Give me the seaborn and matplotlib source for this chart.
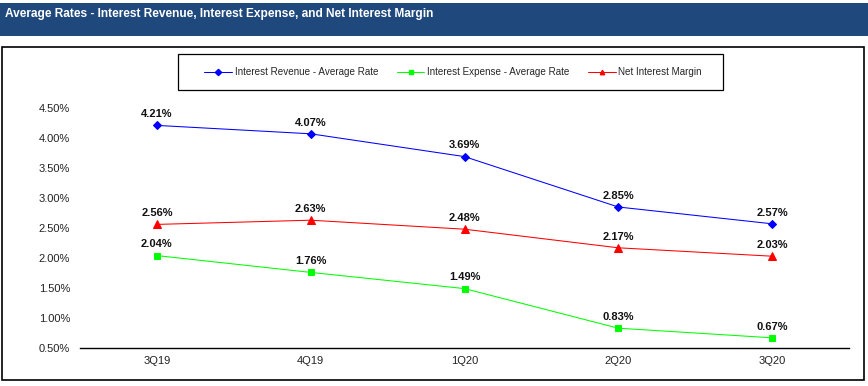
import matplotlib
matplotlib.use("Agg")
import matplotlib.pyplot as plt
import pandas as pd
import seaborn as sns
from matplotlib.lines import Line2D
from matplotlib.patches import Rectangle
from matplotlib.ticker import FuncFormatter

quarters = ["3Q19", "4Q19", "1Q20", "2Q20", "3Q20"]
revenue_rate = [4.21, 4.07, 3.69, 2.85, 2.57]
expense_rate = [2.04, 1.76, 1.49, 0.83, 0.67]
net_margin = [2.56, 2.63, 2.48, 2.17, 2.03]

series = [
    ("Interest Revenue - Average Rate", revenue_rate, "#0000FF", "D", 4),
    ("Interest Expense - Average Rate", expense_rate, "#00FF00", "s", 5),
    ("Net Interest Margin", net_margin, "#FF0000", "^", 5.5),
]

sns.set_theme(style="white")
plt.rcParams["font.family"] = ["Liberation Sans", "DejaVu Sans"]

W, H = 868, 386
fig = plt.figure(figsize=(W / 100, H / 100), dpi=100)

# title banner, outer chart frame and legend box
fig.patches.append(Rectangle((0, 1 - 36 / H), 1, 33 / H, transform=fig.transFigure,
                             facecolor="#1F497D", edgecolor="none", zorder=0))
fig.text(5 / W, 1 - 13.5 / H, "Average Rates - Interest Revenue, Interest Expense, and Net Interest Margin",
         color="white", fontsize=8.6, fontweight="bold", va="center", ha="left")
fig.patches.append(Rectangle((2 / W, 1 - 380 / H), 862 / W, 333 / H, transform=fig.transFigure,
                             facecolor="white", edgecolor="black", linewidth=1.2, zorder=0))
fig.patches.append(Rectangle((178 / W, 1 - 90 / H), 545 / W, 36 / H, transform=fig.transFigure,
                             facecolor="white", edgecolor="black", linewidth=0.9, zorder=0))

ax = fig.add_axes([80 / W, 1 - 348 / H, 769 / W, 240 / H])
ax.set_facecolor("none")
ax.set_zorder(2)

legend_handles = []
for label, values, color, marker, ms in series:
    df = pd.DataFrame({"quarter": quarters, "rate": values})
    sns.lineplot(data=df, x="quarter", y="rate", ax=ax, color=color, marker=marker,
                 markersize=ms, markeredgecolor=color, linewidth=0.75, sort=False)
    for i, v in enumerate(values):
        ax.annotate(f"{v:.2f}%", (i, v), xytext=(0, 4.5), textcoords="offset points",
                    ha="center", va="bottom", fontsize=8, fontweight="bold", color="#111111")
    legend_handles.append(Line2D([], [], color=color, marker=marker, markersize=3.2,
                                 markeredgecolor=color, linewidth=0.75, label=label))

ax.set_xlim(-0.5, len(quarters) - 0.5)
ax.set_ylim(0.5, 4.5)
ax.set_yticks([0.5, 1.0, 1.5, 2.0, 2.5, 3.0, 3.5, 4.0, 4.5])
ax.yaxis.set_major_formatter(FuncFormatter(lambda v, _: f"{v:.2f}%"))
ax.tick_params(axis="both", labelsize=8, length=0, colors="#222222")
ax.tick_params(axis="y", pad=7)
ax.tick_params(axis="x", pad=6)
ax.set_xlabel("")
ax.set_ylabel("")
for side in ("top", "right", "left"):
    ax.spines[side].set_visible(False)
ax.spines["bottom"].set_color("black")
ax.spines["bottom"].set_linewidth(1)

leg = fig.legend(handles=legend_handles, loc="center", ncol=3,
                 bbox_to_anchor=(453 / W, 1 - 72 / H), fontsize=7.1, frameon=False,
                 handlelength=2.8, borderpad=0, borderaxespad=0, handletextpad=0.25,
                 columnspacing=1.9)
leg.set_zorder(3)

fig.savefig("out.png", dpi=100, facecolor="white")
